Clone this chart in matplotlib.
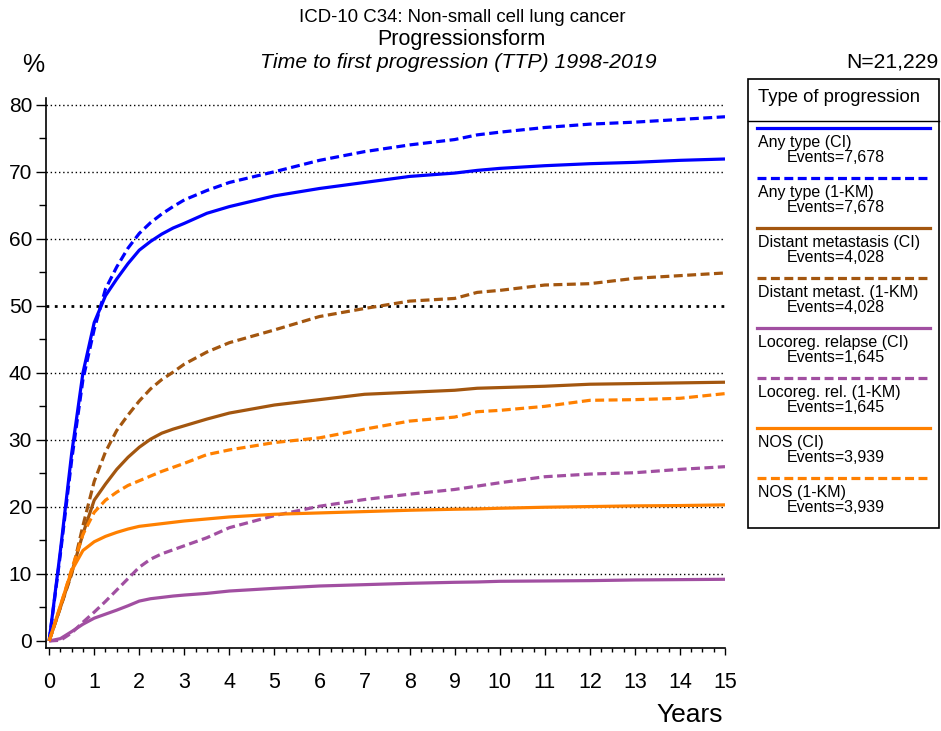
#!/usr/bin/env python3

import matplotlib
matplotlib.use("Agg")
import matplotlib.pyplot as plt
from matplotlib import font_manager
from matplotlib.lines import Line2D
from matplotlib.patches import Rectangle
from matplotlib.ticker import MultipleLocator


installed = {f.name for f in font_manager.fontManager.ttflist}
base_font = "Liberation Sans" if "Liberation Sans" in installed else "DejaVu Sans"
narrow_font = "Liberation Sans Narrow" if "Liberation Sans Narrow" in installed else base_font
plt.rcParams["font.family"] = [base_font, "DejaVu Sans"]

# years since diagnosis
years = [0, 0.25, 0.5, 0.75, 1, 1.25, 1.5, 1.75, 2, 2.25, 2.5, 2.75, 3, 3.5, 4, 5, 6,
         7, 8, 9, 9.5, 10, 11, 12, 13, 14, 15]

any_ci = [0, 13.5, 28, 40, 47.5, 51.5, 54, 56.3, 58.3, 59.6, 60.7, 61.6, 62.3, 63.8,
          64.8, 66.4, 67.5, 68.4, 69.3, 69.8, 70.2, 70.5, 70.9, 71.2, 71.4, 71.7, 71.9]
any_km = [0, 13, 27, 39, 46.5, 52.5, 55.8, 58.6, 60.8, 62.4, 63.7, 64.8, 65.8, 67.2,
          68.4, 70, 71.7, 73.0, 74.0, 74.8, 75.5, 75.9, 76.6, 77.1, 77.4, 77.8, 78.2]
dist_ci = [0, 5, 10.2, 16, 21, 23.4, 25.6, 27.4, 28.9, 30.1, 31.0, 31.6, 32.1, 33.1,
           34.0, 35.2, 36.0, 36.8, 37.1, 37.4, 37.7, 37.8, 38.0, 38.3, 38.4, 38.5, 38.6]
dist_km = [0, 5, 10, 17.2, 23.8, 28.2, 31.4, 33.7, 35.8, 37.6, 39.0, 40.1, 41.3, 43.1,
           44.5, 46.4, 48.4, 49.6, 50.7, 51.1, 52.0, 52.3, 53.1, 53.3, 54.1, 54.5, 54.9]
loco_ci = [0, 0.35, 1.4, 2.5, 3.4, 4.0, 4.6, 5.25, 5.95, 6.3, 6.5, 6.7, 6.85, 7.1,
           7.45, 7.85, 8.2, 8.4, 8.6, 8.75, 8.8, 8.9, 8.95, 9.0, 9.1, 9.15, 9.2]
loco_km = [0, 0.1, 1.2, 2.8, 4.3, 5.9, 7.6, 9.3, 11.0, 12.2, 13.0, 13.6, 14.2, 15.4,
           16.9, 18.7, 20.1, 21.1, 21.9, 22.6, 23.1, 23.6, 24.5, 24.9, 25.1, 25.6, 26.0]
nos_ci = [0, 5.3, 10.5, 13.5, 14.8, 15.6, 16.2, 16.7, 17.1, 17.3, 17.5, 17.7, 17.9, 18.2,
          18.5, 18.9, 19.1, 19.3, 19.5, 19.65, 19.7, 19.8, 19.95, 20.05, 20.15, 20.2, 20.3]
nos_km = [0, 5.2, 10.7, 15.9, 19.2, 21.0, 22.2, 23.2, 23.9, 24.6, 25.3, 25.9, 26.5, 27.8,
          28.5, 29.6, 30.3, 31.6, 32.8, 33.4, 34.2, 34.4, 35.0, 35.9, 36.0, 36.2, 36.9]

labels = ["Any type (CI)", "Any type (1-KM)", "Distant metastasis (CI)",
          "Distant metast. (1-KM)", "Locoreg. relapse (CI)", "Locoreg. rel. (1-KM)",
          "NOS (CI)", "NOS (1-KM)"]
events = ["7,678", "7,678", "4,028", "4,028", "1,645", "1,645", "3,939", "3,939"]

BLUE = "#0000FF"
BROWN = "#A3560F"
PURPLE = "#A14FA1"
ORANGE = "#FF8000"
DASH = (0, (2.8, 1.4))

series = [
    (any_ci, BLUE, "-"), (any_km, BLUE, DASH),
    (dist_ci, BROWN, "-"), (dist_km, BROWN, DASH),
    (loco_ci, PURPLE, "-"), (loco_km, PURPLE, DASH),
    (nos_ci, ORANGE, "-"), (nos_km, ORANGE, DASH),
]

W, H = 941, 731
fig = plt.figure(figsize=(W / 100, H / 100), dpi=100)

# axes box in pixels: left 46, right 725, top 98, bottom 648
ax = fig.add_axes([46 / W, 1 - 648 / H, (725 - 46) / W, (648 - 98) / H])
ax.set_xlim(-0.07, 15)
ax.set_ylim(-1.05, 81)

for yv in range(10, 90, 10):
    ax.axhline(yv, color="black", linestyle=(0, (1, 2)),
               linewidth=2.0 if yv == 50 else 1.0, zorder=1)

for vals, col, ls in series:
    ax.plot(years, vals, color=col, linestyle=ls, linewidth=2.3, zorder=3,
            solid_capstyle="butt", solid_joinstyle="round")

for side in ("top", "right"):
    ax.spines[side].set_visible(False)
ax.spines["left"].set_linewidth(1.2)
ax.spines["bottom"].set_linewidth(1.2)

ax.xaxis.set_major_locator(MultipleLocator(1))
ax.xaxis.set_minor_locator(MultipleLocator(0.25))
ax.yaxis.set_major_locator(MultipleLocator(10))
ax.yaxis.set_minor_locator(MultipleLocator(5))
ax.tick_params(axis="x", which="major", length=5, width=1, pad=12, labelsize=15.5)
ax.tick_params(axis="x", which="minor", length=3, width=1)
ax.tick_params(axis="y", which="major", length=7, width=1, pad=3, labelsize=15)
ax.tick_params(axis="y", which="minor", length=5, width=1)
for lab in ax.get_xticklabels():
    lab.set_fontfamily(narrow_font)

# titles and axis texts
fig.text(462 / W, 1 - 18 / H, "ICD-10 C34: Non-small cell lung cancer",
         ha="center", va="center", fontsize=13.4)
fig.text(461 / W, 1 - 40 / H, "Progressionsform", ha="center", va="center", fontsize=15.5)
fig.text(458 / W, 1 - 62 / H, "Time to first progression (TTP) 1998-2019",
         ha="center", va="center", fontsize=15.3, style="italic")
fig.text(33 / W, 1 - 65 / H, "%", ha="center", va="center", fontsize=18)
fig.text(939 / W, 1 - 62 / H, "N=21,229", ha="right", va="center", fontsize=15.2)
fig.text(690 / W, 1 - 715 / H, "Years", ha="center", va="center", fontsize=19,
         fontfamily=narrow_font)

# legend box drawn in a pixel-coordinate axes
lg = fig.add_axes([0, 0, 1, 1], facecolor="none")
lg.set_xlim(0, W)
lg.set_ylim(H, 0)
lg.axis("off")
lg.add_patch(Rectangle((748, 79), 191, 449, fill=False, edgecolor="black", linewidth=1.2))
lg.add_line(Line2D([748, 939], [121, 121], color="black", linewidth=1.0))
lg.text(758, 98, "Type of progression", ha="left", va="center", fontsize=13.3)
for i, (vals, col, ls) in enumerate(series):
    y0 = 128.3 + 50 * i
    lg.add_line(Line2D([757, 930], [y0, y0], color=col, linestyle=ls, linewidth=2.3))
    lg.text(758, y0 + 14.5, labels[i], ha="left", va="center", fontsize=11.5)
    lg.text(787, y0 + 29.5, "Events=" + events[i], ha="left", va="center", fontsize=11.5)

fig.savefig("out.png", dpi=100)
